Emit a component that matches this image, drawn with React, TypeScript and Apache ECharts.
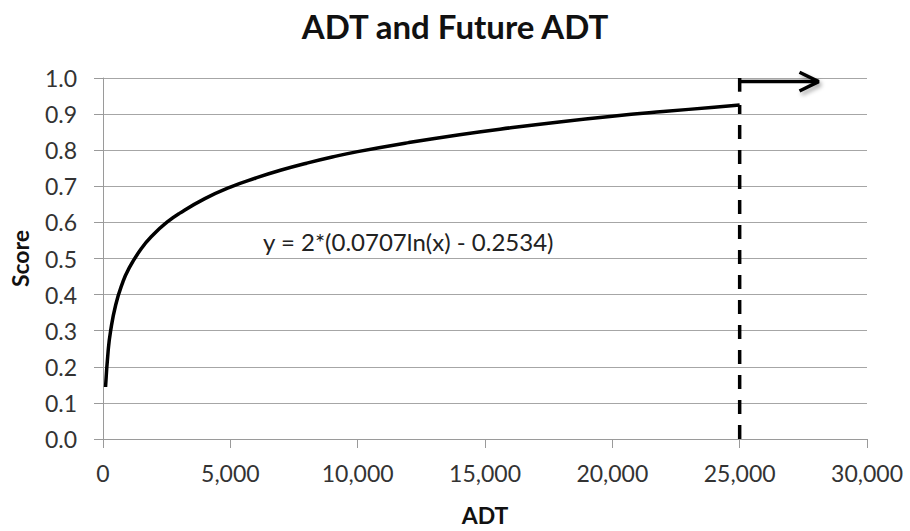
import React, { useEffect, useRef } from "react";
import * as echarts from "echarts";

// ADT values read along the curve, and the score read at each
const adtValues = [100, 200, 300, 500, 750, 1000, 1500, 2000, 2500, 3000, 4000, 5000, 6000, 7000, 8000, 9000, 10000, 12000, 14000, 16000, 18000, 20000, 22000, 24000, 25000];
const scoreValues = [0.144, 0.242, 0.3, 0.372, 0.429, 0.47, 0.527, 0.568, 0.6, 0.625, 0.666, 0.698, 0.723, 0.745, 0.764, 0.781, 0.796, 0.821, 0.843, 0.862, 0.879, 0.894, 0.907, 0.919, 0.925];

// Future-ADT marker: dashed cut-off, start bar and arrow
const cutoffX = [25000, 25000];
const cutoffY = [0, 0.925];
const barX = [25000, 25000];
const barY = [1.0, 0.962];
const arrowX = [25000, 28100];
const arrowY = [0.99, 0.99];
const headX = [27350, 28100, 27350];
const headY = [1.016, 0.99, 0.964];

const xTicks = { min: 0, max: 30000, interval: 5000 };
const yTicks = { min: 0, max: 1, interval: 0.1 };

const titleText = "ADT and Future ADT";
const xName = "ADT";
const yName = "Score";
const equation = "y = 2*(0.0707ln(x) - 0.2534)";

const zip = (xs: number[], ys: number[]) => xs.map((x, i) => [x, ys[i]]);

const FONT = "Lato, 'Open Sans', sans-serif";

export default function App() {
  const ref = useRef<HTMLDivElement>(null);
  useEffect(() => {
    if (!ref.current) return;
    const chart = echarts.init(ref.current, null, { renderer: "svg" });
    const black = "#000000";
    const shadow = {
      shadowColor: "rgba(0,0,0,0.35)",
      shadowBlur: 4,
      shadowOffsetX: 2,
      shadowOffsetY: 3,
    };
    chart.setOption({
      animation: false,
      backgroundColor: "#ffffff",
      textStyle: { fontFamily: FONT },
      title: {
        text: titleText,
        left: "center",
        top: 4,
        textStyle: { fontFamily: FONT, fontSize: 33, fontWeight: "bold", color: "#111111" },
      },
      grid: { left: 99, right: 43, top: 78, bottom: 90 },
      xAxis: {
        type: "value",
        min: xTicks.min,
        max: xTicks.max,
        interval: xTicks.interval,
        name: xName,
        nameLocation: "middle",
        nameGap: 64,
        nameTextStyle: { fontFamily: FONT, fontSize: 23, fontWeight: "bold", color: "#111111" },
        axisLine: { show: true, lineStyle: { color: "#9a9a9a", width: 1 } },
        axisTick: { show: true, length: 9, lineStyle: { color: "#9a9a9a" } },
        splitLine: { show: false },
        axisLabel: {
          margin: 22,
          fontSize: 23,
          color: "#333333",
          fontFamily: FONT,
          formatter: (v: number) => v.toLocaleString("en-US"),
        },
      },
      yAxis: {
        type: "value",
        min: yTicks.min,
        max: yTicks.max,
        interval: yTicks.interval,
        name: yName,
        nameLocation: "middle",
        nameGap: 72,
        nameRotate: 90,
        nameTextStyle: { fontFamily: FONT, fontSize: 23, fontWeight: "bold", color: "#111111" },
        axisLine: { show: true, lineStyle: { color: "#9a9a9a", width: 1 } },
        axisTick: { show: true, length: 9, lineStyle: { color: "#9a9a9a" } },
        splitLine: { show: true, lineStyle: { color: "#a6a6a6", width: 1 } },
        axisLabel: {
          margin: 26,
          fontSize: 23,
          color: "#333333",
          fontFamily: FONT,
          formatter: (v: number) => v.toFixed(1),
        },
      },
      graphic: [
        {
          type: "text",
          left: 263,
          top: 229,
          style: { text: equation, fontFamily: FONT, fontSize: 24, fill: "#222222" },
        },
      ],
      series: [
        {
          type: "line",
          data: zip(adtValues, scoreValues),
          showSymbol: false,
          smooth: true,
          lineStyle: { color: black, width: 3.5 },
        },
        {
          type: "line",
          data: zip(cutoffX, cutoffY),
          showSymbol: false,
          lineStyle: { color: black, width: 3.5, type: [14, 11] },
        },
        {
          type: "line",
          data: zip(barX, barY),
          showSymbol: false,
          clip: false,
          lineStyle: { color: black, width: 3.5 },
        },
        {
          type: "line",
          data: zip(arrowX, arrowY),
          showSymbol: false,
          clip: false,
          lineStyle: { color: black, width: 3.5 },
        },
        {
          type: "line",
          data: zip(headX, headY),
          showSymbol: false,
          clip: false,
          lineStyle: { color: black, width: 3.5, ...shadow },
        },
      ],
    });
    return () => chart.dispose();
  }, []);
  return (
    <div
      ref={ref}
      style={{ position: "fixed", left: 0, top: 0, width: 910, height: 531 }}
    />
  );
}
